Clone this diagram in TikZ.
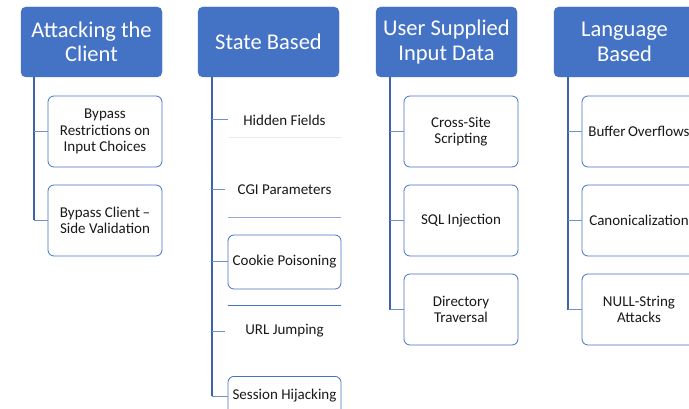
\documentclass[tikz,border=0pt]{standalone}
\usepackage{fontspec}
\setmainfont{Carlito}
\definecolor{hdr}{HTML}{4472C4}
\definecolor{trunkc}{HTML}{3E63AC}
\definecolor{branchc}{HTML}{6F90CF}
\definecolor{faintc}{HTML}{E8ECF6}
\definecolor{midc}{HTML}{8FAADC}
\begin{document}
\begin{tikzpicture}[x=1pt,y=-1pt,
  header/.style={fill=hdr,draw=hdr,rounded corners=5pt,text=white,align=center,
    minimum width=141pt,minimum height=70pt,inner sep=2pt,
    font=\fontsize{22.5}{24.5}\selectfont},
  child/.style={draw=hdr,line width=0.8pt,rounded corners=6pt,fill=white,align=center,
    minimum width=114pt,minimum height=71pt,inner sep=2pt,text=black!90,
    font=\fontsize{15}{16.5}\selectfont},
  plain/.style={align=center,minimum width=113pt,inner sep=0pt,text=black!90,
    font=\fontsize{15}{16.5}\selectfont},
  trunk/.style={draw=trunkc,line width=1.5pt},
  branch/.style={draw=branchc,line width=1pt},
]
\useasboundingbox (0,0) rectangle (689,409);
\clip (0,0) rectangle (689,409);
\fill[white] (0,0) rectangle (689,409);

% Column 1
\node[header] (h1) at (91.5,42) {Attacking the\\Client};
\node[child] (c11) at (105,131.5) {Bypass\\Restrictions on\\Input Choices};
\node[child] (c12) at (105,220.5) {Bypass Client\,–\\Side Validation};
\coordinate (t1) at (34,77);
\draw[trunk] (t1) -- (t1 |- c12.west);
\draw[branch] (t1 |- c11.west) -- (c11.west);
\draw[branch] (t1 |- c12.west) -- (c12.west);

% Column 2
\node[header] (h2) at (268.5,42) {State Based};
\node[plain,minimum height=34pt] (c21) at (284.5,120) {Hidden Fields};
\node[plain,minimum height=54pt] (c22) at (284.5,190) {CGI Parameters};
\node[child,minimum height=54pt,minimum width=113pt] (c23) at (284.5,262) {Cookie Poisoning};
\node[plain,minimum height=50pt] (c24) at (284.5,331) {URL Jumping};
\node[child,minimum height=54pt,minimum width=113pt,anchor=north] (c25) at (284.5,376) {};
\node[plain] (c25t) at (284.5,396) {Session Hijacking};
\draw[faintc,line width=1pt] (c21.south west) -- (c21.south east);
\draw[midc,line width=0.8pt] (c22.south west) -- (c22.south east);
\draw[hdr,line width=0.8pt] (c24.north west) -- (c24.north east);
\coordinate (t2) at (212,77);
\draw[trunk] (t2) -- (t2 |- c25t.west);
\draw[branch] (t2 |- c21.west) -- (c21.west);
\draw[branch] (t2 |- c22.west) -- ([xshift=-3pt]c22.west);
\draw[branch] (t2 |- c23.west) -- (c23.west);
\draw[branch] (t2 |- c24.west) -- ([xshift=-3pt]c24.west);
\draw[branch] (t2 |- c25t.west) -- (c25t.west);

% Column 3
\node[header] (h3) at (446.5,42) {User Supplied\\Input Data};
\node[child] (c31) at (461,131.5) {Cross-Site\\Scripting};
\node[child] (c32) at (461,220.5) {SQL Injection};
\node[child] (c33) at (461,309.5) {Directory\\Traversal};
\coordinate (t3) at (390,77);
\draw[trunk] (t3) -- (t3 |- c33.west);
\draw[branch] (t3 |- c31.west) -- (c31.west);
\draw[branch] (t3 |- c32.west) -- (c32.west);
\draw[branch] (t3 |- c33.west) -- (c33.west);

% Column 4
\node[header] (h4) at (624.5,42) {Language\\Based};
\node[child] (c41) at (639,131.5) {Buffer\,Overflows};
\node[child] (c42) at (639,220.5) {Canonicalization};
\node[child] (c43) at (639,309.5) {NULL-String\\Attacks};
\coordinate (t4) at (568,77);
\draw[trunk] (t4) -- (t4 |- c43.west);
\draw[branch] (t4 |- c41.west) -- (c41.west);
\draw[branch] (t4 |- c42.west) -- (c42.west);
\draw[branch] (t4 |- c43.west) -- (c43.west);
\end{tikzpicture}
\end{document}
